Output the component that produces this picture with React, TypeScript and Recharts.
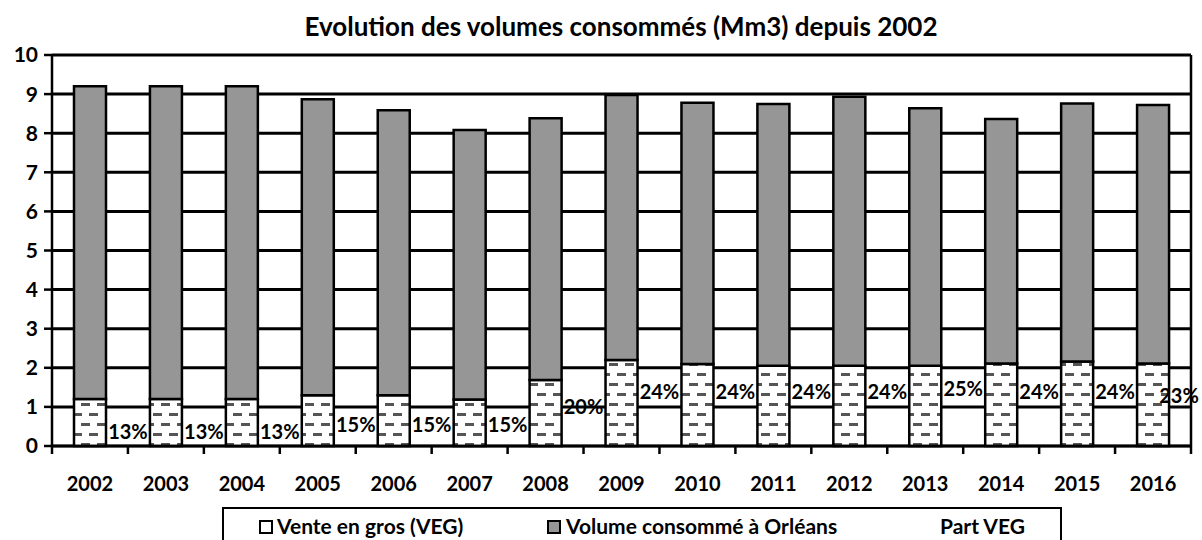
import { Bar, CartesianGrid, ComposedChart, LabelList, Line, XAxis, YAxis } from "recharts";

const years = ["2002", "2003", "2004", "2005", "2006", "2007", "2008", "2009", "2010", "2011", "2012", "2013", "2014", "2015", "2016"];
const venteEnGros = [1.2, 1.2, 1.2, 1.3, 1.3, 1.19, 1.69, 2.2, 2.1, 2.05, 2.05, 2.05, 2.11, 2.16, 2.11];
const volumeOrleans = [8.0, 8.0, 8.0, 7.57, 7.29, 6.89, 6.69, 6.78, 6.68, 6.7, 6.88, 6.59, 6.25, 6.6, 6.61];
const partVeg = [13, 13, 13, 15, 15, 15, 20, 24, 24, 24, 24, 25, 24, 24, 23];
const yTicks = [0, 1, 2, 3, 4, 5, 6, 7, 8, 9, 10];

const data = years.map((year, i) => ({
  year,
  veg: venteEnGros[i],
  orleans: volumeOrleans[i],
  part: partVeg[i],
}));

const FONT = "Lato, 'Open Sans', sans-serif";
const W = 1202;
const H = 540;
const PLOT_LEFT = 52;
const PLOT_RIGHT = 1191;
const BAND = (PLOT_RIGHT - PLOT_LEFT) / years.length;

const YearTick = (props: any) => {
  const { x, y, payload, index } = props;
  return (
    <g>
      <line x1={x - BAND / 2} x2={x - BAND / 2} y1={y} y2={y + 8} stroke="#000" strokeWidth={2.5} />
      {index === years.length - 1 && (
        <line x1={x + BAND / 2} x2={x + BAND / 2} y1={y} y2={y + 8} stroke="#000" strokeWidth={2.5} />
      )}
      <text
        x={x}
        y={y + 37}
        textAnchor="middle"
        dominantBaseline="central"
        fontFamily={FONT}
        fontWeight={700}
        fontSize={20}
        fill="#000"
      >
        {payload.value}
      </text>
    </g>
  );
};

// Part VEG labels sit just right of each bar, on the category boundary
const PartLabel = (props: any) => {
  const { x, y, value, index } = props;
  const last = index === years.length - 1;
  return (
    <text
      x={last ? x + BAND / 2 - 12 : x + BAND / 2}
      y={y}
      textAnchor="middle"
      dominantBaseline="central"
      fontFamily={FONT}
      fontWeight={700}
      fontSize={20}
      fill="#000"
    >
      {value}%
    </text>
  );
};

const legendText = {
  position: "absolute" as const,
  top: 5,
  fontFamily: FONT,
  fontWeight: 700,
  fontSize: 21,
  lineHeight: "24px",
  color: "#000",
  whiteSpace: "nowrap" as const,
};

const legendBox = (fill: string, left: number) => ({
  position: "absolute" as const,
  left,
  top: 11,
  width: 10,
  height: 10,
  border: "2px solid #000",
  background: fill,
});

export default function App() {
  return (
    <div style={{ position: "absolute", left: 0, top: 0, width: W, height: H, background: "#fff", overflow: "hidden" }}>
      <div
        style={{
          position: "absolute",
          left: 0,
          width: 1242,
          top: 10,
          textAlign: "center",
          fontFamily: FONT,
          fontWeight: 700,
          fontSize: 26,
          color: "#000",
        }}
      >
        Evolution des volumes consommés (Mm3) depuis 2002
      </div>
      <ComposedChart
        width={W}
        height={H}
        data={data}
        margin={{ top: 55, right: W - PLOT_RIGHT - 1, bottom: 44, left: 0 }}
        barSize={32}
      >
        <defs>
          <pattern id="dashes" width={16} height={20} patternUnits="userSpaceOnUse">
            <rect width={16} height={20} fill="#fff" />
            <rect x={1} y={3} width={9} height={3} fill="#555" />
            <rect x={9} y={13} width={7} height={3} fill="#555" />
            <rect x={0} y={13} width={2} height={3} fill="#555" />
          </pattern>
        </defs>
        <CartesianGrid vertical={false} stroke="#000" strokeWidth={3} strokeOpacity={1} />
        <XAxis
          dataKey="year"
          interval={0}
          tickLine={false}
          tickSize={0}
          tickMargin={0}
          height={50}
          axisLine={{ stroke: "#000", strokeWidth: 2.5 }}
          tick={<YearTick />}
        />
        <YAxis
          domain={[0, 10]}
          ticks={yTicks}
          interval={0}
          width={PLOT_LEFT}
          tickSize={8}
          tickMargin={6}
          tickLine={{ stroke: "#000", strokeWidth: 2.5 }}
          axisLine={{ stroke: "#000", strokeWidth: 2.5 }}
          tick={{ fontFamily: FONT, fontWeight: 700, fontSize: 21, fill: "#000" }}
        />
        <YAxis
          yAxisId="pct"
          orientation="right"
          domain={[9, 116]}
          allowDataOverflow
          width={1}
          tick={false}
          tickLine={false}
          axisLine={{ stroke: "#000", strokeWidth: 2.5 }}
        />
        <Bar
          dataKey="veg"
          name="Vente en gros (VEG)"
          stackId="v"
          fill="url(#dashes)"
          stroke="#000"
          strokeWidth={2.5}
          isAnimationActive={false}
        />
        <Bar
          dataKey="orleans"
          name="Volume consommé à Orléans"
          stackId="v"
          fill="#969696"
          stroke="#000"
          strokeWidth={2.5}
          isAnimationActive={false}
        />
        <Line
          yAxisId="pct"
          dataKey="part"
          name="Part VEG"
          stroke="none"
          dot={false}
          activeDot={false}
          isAnimationActive={false}
        >
          <LabelList dataKey="part" content={<PartLabel />} />
        </Line>
      </ComposedChart>
      <div
        style={{
          position: "absolute",
          left: 222,
          top: 507,
          width: 840,
          height: 44,
          border: "2px solid #000",
          boxSizing: "border-box",
        }}
      >
        <div style={legendBox("#fff", 35)} />
        <div style={{ ...legendText, left: 53 }}>Vente en gros (VEG)</div>
        <div style={legendBox("#969696", 323)} />
        <div style={{ ...legendText, left: 342 }}>Volume consommé à Orléans</div>
        <div style={{ ...legendText, left: 716 }}>Part VEG</div>
      </div>
    </div>
  );
}
